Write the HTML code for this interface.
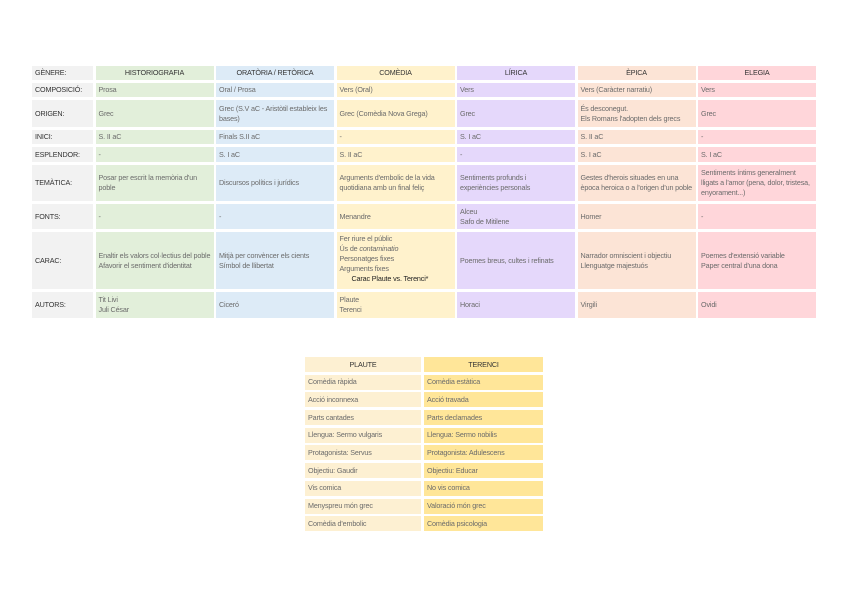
<!DOCTYPE html>
<html><head><meta charset="utf-8"><style>
body{margin:0;width:848px;height:599px;background:#fff;position:relative;overflow:hidden;font-family:"Liberation Sans",sans-serif;}
.g{position:absolute;display:grid;}
.g div{display:flex;align-items:center;font-size:7.2px;color:#6b6b6b;padding:0 3px;line-height:1.38;overflow:hidden;letter-spacing:-0.15px}
#t1{left:32px;top:66px;grid-template-columns:61px repeat(6,118px);grid-template-rows:14px 14px 27px 14px 15px 36px 25px 57px 26px;column-gap:2.5px;row-gap:3px}
#t2{left:305px;top:357px;grid-template-columns:116px 119px;grid-auto-rows:15px;column-gap:3px;row-gap:2.7px}
.l{background:#f2f2f2;color:#333 !important}
.h{justify-content:center;color:#333 !important}
.a{background:#e2efda}.b{background:#ddebf7}.c{background:#fff2cc}.d{background:#e5d8fb}.e{background:#fce4d6}.f{background:#ffd6da}
.p{background:#fdf0d2}.t{background:#ffe699}
</style></head><body>
<div class="g" id="t1">
<div class="l">GÈNERE:</div><div class="a h">HISTORIOGRAFIA</div><div class="b h">ORATÒRIA / RETÒRICA</div><div class="c h">COMÈDIA</div><div class="d h">LÍRICA</div><div class="e h">ÈPICA</div><div class="f h">ELEGIA</div>
<div class="l">COMPOSICIÓ:</div><div class="a">Prosa</div><div class="b">Oral / Prosa</div><div class="c">Vers (Oral)</div><div class="d">Vers</div><div class="e">Vers (Caràcter narratiu)</div><div class="f">Vers</div>
<div class="l">ORIGEN:</div><div class="a">Grec</div><div class="b">Grec (S.V aC - Aristòtil estableix les bases)</div><div class="c">Grec (Comèdia Nova Grega)</div><div class="d">Grec</div><div class="e">És desconegut.<br>Els Romans l'adopten dels grecs</div><div class="f">Grec</div>
<div class="l">INICI:</div><div class="a">S. II aC</div><div class="b">Finals S.II aC</div><div class="c">-</div><div class="d">S. I aC</div><div class="e">S. II aC</div><div class="f">-</div>
<div class="l">ESPLENDOR:</div><div class="a">-</div><div class="b">S. I aC</div><div class="c">S. II aC</div><div class="d">-</div><div class="e">S. I aC</div><div class="f">S. I aC</div>
<div class="l">TEMÀTICA:</div><div class="a">Posar per escrit la memòria d'un<br>poble</div><div class="b">Discursos polítics i jurídics</div><div class="c">Arguments d'embolic de la vida quotidiana amb un final feliç</div><div class="d">Sentiments profunds i<br>experiències personals</div><div class="e">Gestes d'herois situades en una època heroica o a l'origen d'un poble</div><div class="f">Sentiments íntims generalment lligats a l'amor (pena, dolor, tristesa, enyorament...)</div>
<div class="l">FONTS:</div><div class="a">-</div><div class="b">-</div><div class="c">Menandre</div><div class="d">Alceu<br>Safo de Mitilene</div><div class="e">Homer</div><div class="f">-</div>
<div class="l">CARAC:</div><div class="a">Enaltir els valors col·lectius del poble<br>Afavorir el sentiment d'identitat</div><div class="b">Mitjà per convèncer els cients<br>Símbol de llibertat</div><div class="c" style="display:block;padding-top:2px">Fer riure el públic<br>Ús de <i>contaminatio</i><br>Personatges fixes<br>Arguments fixes<br><span style="color:#222;margin-left:12px">Carac Plaute vs. Terenci*</span></div><div class="d">Poemes breus, cultes i refinats</div><div class="e">Narrador omniscient i objectiu<br>Llenguatge majestuós</div><div class="f">Poemes d'extensió variable<br>Paper central d'una dona</div>
<div class="l">AUTORS:</div><div class="a">Tit Livi<br>Juli César</div><div class="b">Ciceró</div><div class="c">Plaute<br>Terenci</div><div class="d">Horaci</div><div class="e">Virgili</div><div class="f">Ovidi</div>
</div>
<div class="g" id="t2">
<div class="p h">PLAUTE</div><div class="t h">TERENCI</div>
<div class="p">Comèdia ràpida</div><div class="t">Comèdia estàtica</div>
<div class="p">Acció inconnexa</div><div class="t">Acció travada</div>
<div class="p">Parts cantades</div><div class="t">Parts declamades</div>
<div class="p">Llengua: Sermo vulgaris</div><div class="t">Llengua: Sermo nobilis</div>
<div class="p">Protagonista: Servus</div><div class="t">Protagonista: Adulescens</div>
<div class="p">Objectiu: Gaudir</div><div class="t">Objectiu: Educar</div>
<div class="p">Vis comica</div><div class="t">No vis comica</div>
<div class="p">Menyspreu món grec</div><div class="t">Valoració món grec</div>
<div class="p">Comèdia d'embolic</div><div class="t">Comèdia psicologia</div>
</div>
</body></html>
